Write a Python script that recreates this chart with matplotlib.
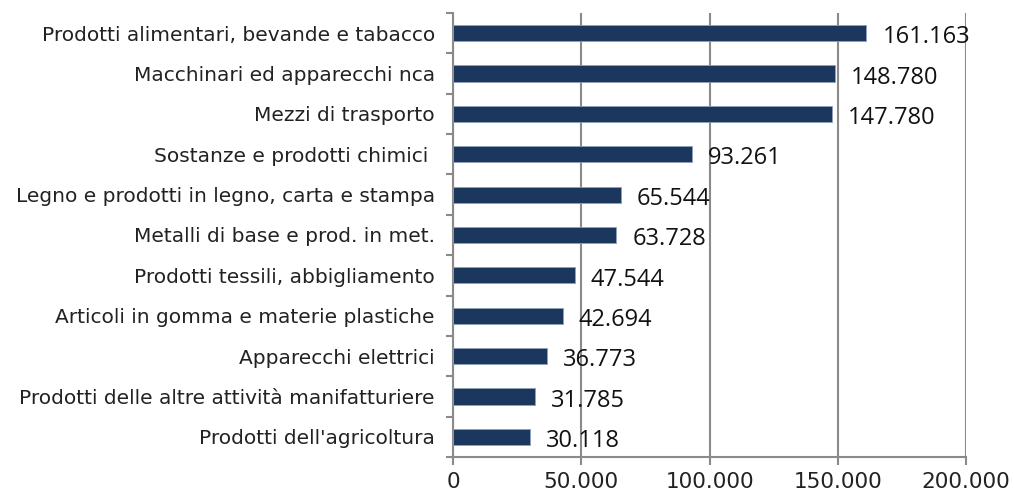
import matplotlib
matplotlib.use("Agg")
import matplotlib.pyplot as plt
from matplotlib.ticker import FixedLocator, FuncFormatter

categories = [
    "Prodotti alimentari, bevande e tabacco",
    "Macchinari ed apparecchi nca",
    "Mezzi di trasporto",
    "Sostanze e prodotti chimici ",
    "Legno e prodotti in legno, carta e stampa",
    "Metalli di base e prod. in met.",
    "Prodotti tessili, abbigliamento",
    "Articoli in gomma e materie plastiche",
    "Apparecchi elettrici",
    "Prodotti delle altre attività manifatturiere",
    "Prodotti dell'agricoltura",
]
values = [161163, 148780, 147780, 93261, 65544, 63728, 47544, 42694, 36773, 31785, 30118]
x_ticks = [0, 50000, 100000, 150000, 200000]

def fmt(v):
    return f"{int(v):,}".replace(",", ".")

fig = plt.figure(figsize=(10.14, 4.95), dpi=100)
ax = fig.add_axes([453/1014, 1-457/495, (966-453)/1014, (457-13)/495])

n = len(categories)
ypos = list(range(n))[::-1]
bar_color = "#1C375E"
ax.barh(ypos, values, height=0.4, color=bar_color, edgecolor="#8EA0BC", linewidth=0.6, zorder=3)

ax.set_xlim(0, 200000)
ax.set_ylim(-0.5, n - 0.5)

grid_c = "#8A8A8A"
text_c = "#222222"
ax.xaxis.set_major_locator(FixedLocator(x_ticks))
ax.xaxis.set_major_formatter(FuncFormatter(lambda v, p: fmt(v)))
ax.grid(axis="x", color=grid_c, linewidth=1.5, zorder=0)
for s in ["top", "right"]:
    ax.spines[s].set_visible(False)
for s in ["left", "bottom"]:
    ax.spines[s].set_color(grid_c)
    ax.spines[s].set_linewidth(1.5)

ax.tick_params(axis="x", direction="out", length=6, width=1.5, color=grid_c,
               labelsize=15.5, pad=5, labelcolor=text_c)
ax.set_yticks([y - 0.5 for y in range(n + 1)])
ax.set_yticklabels([])
ax.tick_params(axis="y", direction="out", length=5, width=1.5, color=grid_c)
ax.set_yticks(ypos, minor=True)
ax.set_yticklabels(categories, minor=True)
ax.tick_params(axis="y", which="minor", length=0, pad=13, labelsize=14.5, labelcolor=text_c)
for lbl in ax.get_xticklabels() + ax.get_yticklabels(minor=True):
    lbl.set_fontfamily("DejaVu Sans")

for y, v in zip(ypos, values):
    ax.annotate(fmt(v), xy=(v, y), xytext=(11.5, -3), textcoords="offset points",
                ha="left", va="center", fontsize=17, family="Open Sans", color="#111111")

fig.savefig("out.png", dpi=100)
